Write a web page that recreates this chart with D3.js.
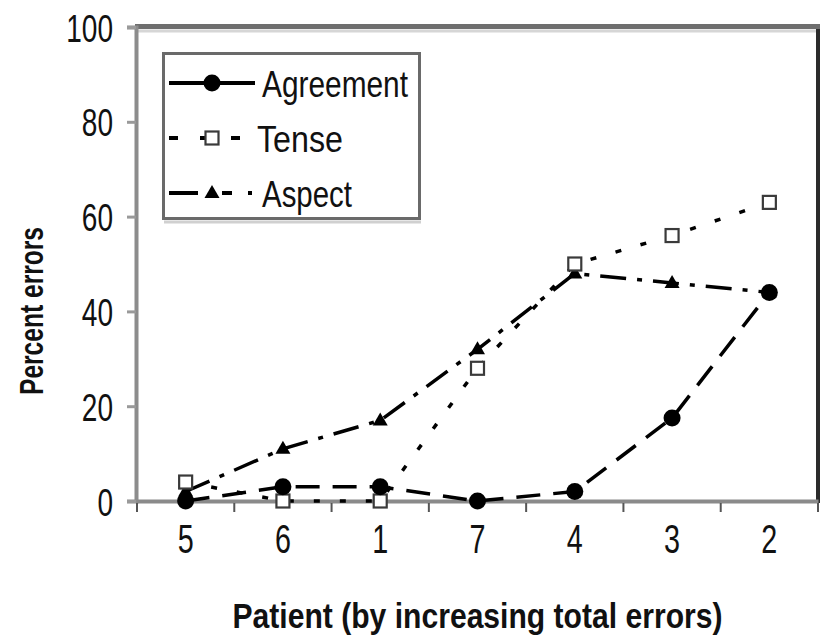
<!DOCTYPE html>
<html><head><meta charset="utf-8">
<script src="https://cdn.jsdelivr.net/npm/d3@7/dist/d3.min.js"></script>
<style>
html,body{margin:0;padding:0;background:#fff;}
svg{display:block;}
text{font-family:"Liberation Sans",Arial,sans-serif;fill:#111;}
</style></head>
<body>
<svg id="chart" width="822" height="644"></svg>
<script>
const categories = ["5","6","1","7","4","3","2"];
const agreement = [0, 3, 3, 0, 2, 17.5, 44];
const tense     = [4, 0, 0, 28, 50, 56, 63];
const aspect    = [2, 11, 17, 32, 48, 46, 44];
const yTicks = [0, 20, 40, 60, 80, 100];
const seriesNames = ["Agreement", "Tense", "Aspect"];
const xTitle = "Patient (by increasing total errors)";
const yTitle = "Percent errors";

const svg = d3.select("#chart");
const L = 137, R = 818, T = 27, B = 501;
const x = d3.scaleBand().domain(categories).range([L, R]).padding(0);
const y = d3.scaleLinear().domain([0, 100]).range([B, T]);
const cx = c => x(c) + x.bandwidth() / 2;

// frame top & right
svg.append("line").attr("x1", L - 2).attr("x2", 820).attr("y1", 26.5).attr("y2", 26.5)
  .attr("stroke", "#6e6e6e").attr("stroke-width", 5);
svg.append("line").attr("x1", L).attr("x2", 816).attr("y1", 31).attr("y2", 31)
  .attr("stroke", "#d6d6d6").attr("stroke-width", 3);
svg.append("line").attr("x1", 818).attr("x2", 818).attr("y1", 29).attr("y2", B + 2)
  .attr("stroke", "#2b2b2b").attr("stroke-width", 4);

// y axis
const yAxis = svg.append("g").attr("transform", `translate(${L - 1},0)`)
  .call(d3.axisLeft(y).tickValues(yTicks).tickSize(9).tickPadding(14));
yAxis.select(".domain").attr("stroke", "#8c8c8c").attr("stroke-width", 4);
yAxis.selectAll(".tick line").attr("stroke", "#9a9a9a").attr("stroke-width", 3);
yAxis.selectAll(".tick text")
  .style("font-size", "39px").attr("dy", "0.36em").attr("fill", "#1a1a1a")
  .attr("textLength", d => String(d).length * 15.6).attr("lengthAdjust", "spacingAndGlyphs");

// x axis
const xAxis = svg.append("g").attr("transform", `translate(0,${B})`)
  .call(d3.axisBottom(x).tickSize(0).tickPadding(40));
xAxis.select(".domain").attr("stroke", "#8a8a8a").attr("stroke-width", 4);
xAxis.selectAll(".tick text")
  .style("font-size", "41px").attr("dy", "0.3em").attr("fill", "#1a1a1a")
  .attr("textLength", 16).attr("lengthAdjust", "spacingAndGlyphs");
const bounds = categories.map(c => x(c)).concat([x.range()[1]]);
svg.append("g").selectAll("line").data(bounds).join("line")
  .attr("x1", d => d).attr("x2", d => d).attr("y1", B + 2).attr("y2", B + 11)
  .attr("stroke", "#555").attr("stroke-width", 2);

// titles
svg.append("text").attr("x", (L + R) / 2).attr("y", 628).attr("text-anchor", "middle")
  .style("font-size", "35px").style("font-weight", "bold")
  .attr("textLength", 490).attr("lengthAdjust", "spacingAndGlyphs").text(xTitle);
svg.append("text").attr("transform", "translate(43,311) rotate(-90)").attr("text-anchor", "middle")
  .style("font-size", "34px").style("font-weight", "bold")
  .attr("textLength", 168).attr("lengthAdjust", "spacingAndGlyphs").text(yTitle);

// series
const dashes = { Agreement: "24,13", Tense: "6,20", Aspect: "26,11,5,11" };
const data = { Agreement: agreement, Tense: tense, Aspect: aspect };
const line = d3.line().x((d, i) => cx(categories[i])).y(d => y(d));

function marker(g, name, px, py) {
  if (name === "Agreement") {
    g.append("circle").attr("cx", px).attr("cy", py).attr("r", 8.5).attr("fill", "#000");
  } else if (name === "Tense") {
    g.append("rect").attr("x", px - 6.5).attr("y", py - 6.5).attr("width", 13).attr("height", 13)
      .attr("fill", "#fff").attr("stroke", "#3a3a3a").attr("stroke-width", 2.2);
  } else {
    g.append("path").attr("d", `M${px},${py - 8}L${px + 7.5},${py + 5}L${px - 7.5},${py + 5}Z`).attr("fill", "#000");
  }
}

["Aspect", "Tense", "Agreement"].forEach(name => {
  const g = svg.append("g");
  g.append("path").datum(data[name]).attr("d", line).attr("fill", "none")
    .attr("stroke", "#000").attr("stroke-width", 3.5).attr("stroke-dasharray", dashes[name]);
  data[name].forEach((v, i) => marker(g, name, cx(categories[i]), y(v)));
});

// legend
const lg = svg.append("g");
lg.append("line").attr("x1", 164).attr("x2", 421).attr("y1", 222).attr("y2", 222)
  .attr("stroke", "#d0d0d0").attr("stroke-width", 3);
lg.append("rect").attr("x", 163.5).attr("y", 53.5).attr("width", 256).attr("height", 165)
  .attr("fill", "#fff").attr("stroke", "#6a6a6a").attr("stroke-width", 3);
const rowsY = [83, 138, 193];
const textX = [262, 257, 262];
const textW = [146, 86, 90];
seriesNames.forEach((name, i) => {
  const ry = rowsY[i];
  lg.append("line").attr("x1", 169).attr("x2", 255).attr("y1", ry).attr("y2", ry)
    .attr("stroke", "#000").attr("stroke-width", 4)
    .attr("stroke-dasharray", name === "Agreement" ? null : (name === "Tense" ? "9,22" : "29,24,10,16,4,50"));
  marker(lg, name, 212, ry);
  lg.append("text").attr("x", textX[i]).attr("y", ry + 14).style("font-size", "37px")
    .attr("fill", "#1a1a1a")
    .attr("textLength", textW[i]).attr("lengthAdjust", "spacingAndGlyphs").text(name);
});
</script>
</body></html>
